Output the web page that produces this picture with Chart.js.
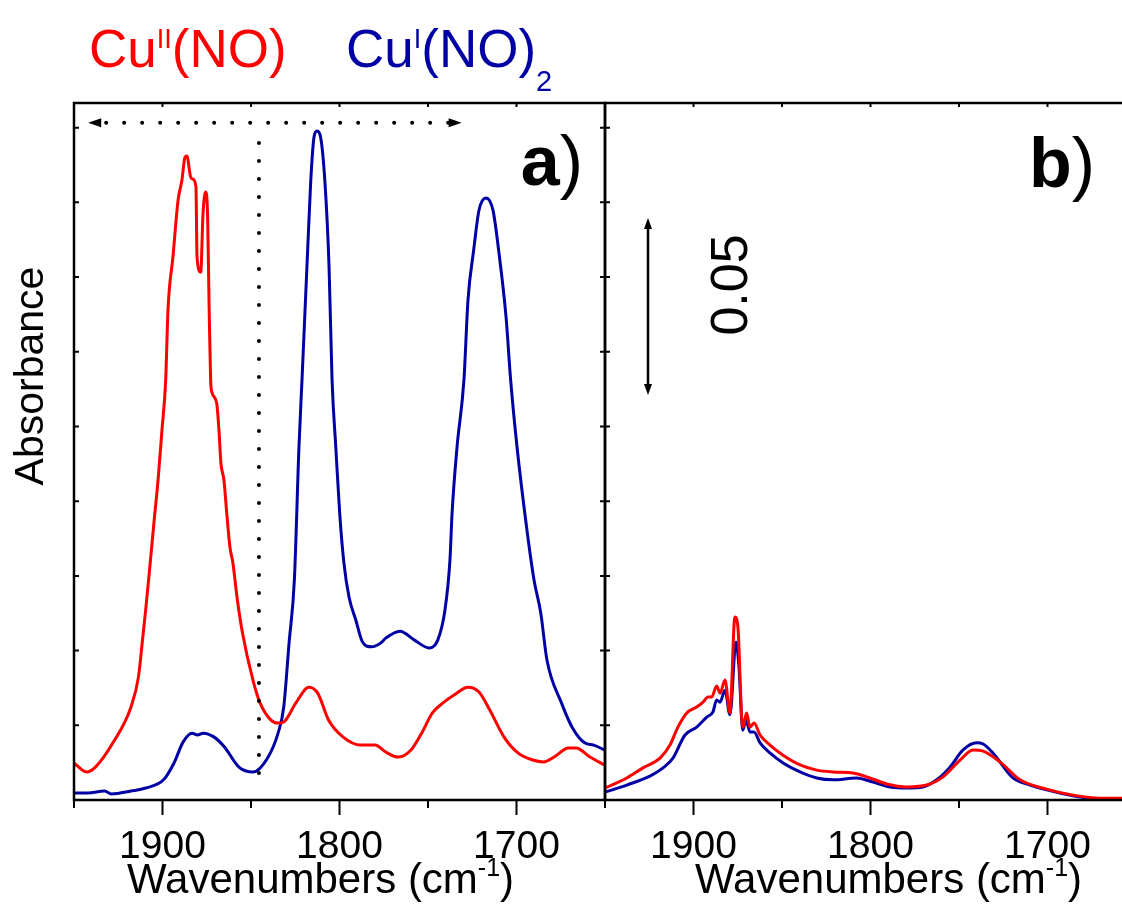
<!DOCTYPE html>
<html>
<head>
<meta charset="utf-8">
<script src="https://cdn.jsdelivr.net/npm/chart.js@4.4.0/dist/chart.umd.min.js"></script>
<style>
html, body { margin: 0; padding: 0; background: #fff; overflow: hidden; }
#wrap { position: relative; width: 1122px; height: 907px; overflow: hidden; }
canvas { position: absolute; left: 0; top: 0; }
</style>
</head>
<body>
<div id="wrap">
<canvas id="chart-a" width="1122" height="907"></canvas>
<canvas id="chart-b" width="1180" height="907"></canvas>
</div>
<script>
// panel a) - wavenumbers (cm-1) and absorbance
const aWaveRed = [1950.0, 1942.9, 1937.9, 1928.0, 1917.8, 1913.6, 1911.3, 1909.5, 1907.6, 1905.9, 1904.8, 1902.5, 1900.3, 1898.2, 1896.9, 1894.1, 1891.2, 1889.0, 1887.3, 1886.2, 1884.1, 1882.8, 1881.1, 1880.5, 1878.4, 1877.1, 1875.6, 1874.5, 1873.7, 1872.8, 1872.0, 1869.4, 1868.1, 1867.0, 1865.3, 1863.7, 1861.9, 1860.2, 1857.9, 1854.8, 1848.9, 1844.9, 1838.7, 1834.7, 1831.5, 1824.6, 1817.3, 1812.3, 1806.2, 1798.1, 1788.0, 1779.9, 1773.8, 1766.9, 1759.6, 1753.6, 1747.5, 1741.5, 1735.3, 1727.4, 1721.2, 1715.1, 1707.1, 1699.2, 1690.8, 1684.7, 1678.8, 1670.6, 1666.4, 1658.5, 1650.3];
const aAbsRed = [0.0099, 0.0075, 0.0088, 0.0153, 0.0249, 0.0329, 0.0428, 0.0509, 0.0602, 0.0688, 0.0744, 0.0857, 0.0990, 0.1124, 0.1312, 0.1454, 0.1606, 0.1660, 0.1721, 0.1724, 0.1668, 0.1662, 0.1641, 0.1454, 0.1413, 0.1571, 0.1628, 0.1561, 0.1330, 0.1124, 0.1090, 0.1063, 0.0990, 0.0902, 0.0857, 0.0768, 0.0677, 0.0634, 0.0543, 0.0447, 0.0321, 0.0260, 0.0214, 0.0206, 0.0209, 0.0260, 0.0302, 0.0286, 0.0214, 0.0169, 0.0147, 0.0147, 0.0128, 0.0115, 0.0134, 0.0179, 0.0233, 0.0260, 0.0281, 0.0302, 0.0289, 0.0241, 0.0169, 0.0126, 0.0107, 0.0102, 0.0115, 0.0139, 0.0139, 0.0115, 0.0094];
const aWaveBlue = [1950.0, 1942.1, 1932.8, 1928.8, 1917.8, 1909.5, 1899.4, 1893.5, 1888.4, 1883.3, 1880.2, 1877.1, 1871.0, 1865.0, 1856.8, 1848.9, 1840.7, 1834.7, 1831.5, 1828.5, 1825.5, 1822.9, 1821.2, 1818.4, 1816.3, 1814.4, 1812.7, 1810.7, 1808.2, 1805.9, 1804.2, 1802.1, 1799.9, 1797.5, 1794.6, 1790.8, 1787.0, 1781.9, 1776.8, 1773.7, 1765.8, 1757.6, 1749.4, 1744.5, 1740.4, 1737.6, 1736.4, 1733.6, 1729.7, 1727.4, 1724.2, 1721.2, 1717.2, 1713.3, 1710.1, 1705.9, 1703.3, 1699.7, 1694.1, 1690.1, 1686.3, 1682.8, 1674.6, 1668.6, 1661.5, 1656.4, 1650.3];
const aAbsBlue = [0.0019, 0.0019, 0.0024, 0.0016, 0.0024, 0.0032, 0.0054, 0.0099, 0.0155, 0.0179, 0.0174, 0.0179, 0.0169, 0.0142, 0.0088, 0.0075, 0.0112, 0.0179, 0.0249, 0.0420, 0.0589, 0.0945, 0.1124, 0.1427, 0.1652, 0.1775, 0.1791, 0.1775, 0.1652, 0.1427, 0.1124, 0.0945, 0.0768, 0.0634, 0.0543, 0.0482, 0.0423, 0.0410, 0.0420, 0.0434, 0.0452, 0.0428, 0.0407, 0.0428, 0.0509, 0.0642, 0.0768, 0.0945, 0.1124, 0.1339, 0.1472, 0.1579, 0.1612, 0.1579, 0.1472, 0.1293, 0.1124, 0.0945, 0.0723, 0.0589, 0.0501, 0.0375, 0.0260, 0.0195, 0.0153, 0.0147, 0.0134];

// panel b)
const bWaveRed = [1950.0, 1937.7, 1928.5, 1918.9, 1913.3, 1908.8, 1903.8, 1898.2, 1894.6, 1891.8, 1889.7, 1886.9, 1885.0, 1882.2, 1879.4, 1876.6, 1874.9, 1872.8, 1872.0, 1870.0, 1868.1, 1865.8, 1862.4, 1856.8, 1849.4, 1839.8, 1830.4, 1821.2, 1809.9, 1802.1, 1790.8, 1779.5, 1768.2, 1759.0, 1749.4, 1742.1, 1736.4, 1726.8, 1715.5, 1700.5, 1685.6, 1670.3, 1657.9];
const bAbsRed = [0.0032, 0.0059, 0.0086, 0.0112, 0.0147, 0.0195, 0.0233, 0.0249, 0.0262, 0.0276, 0.0276, 0.0305, 0.0286, 0.0321, 0.0233, 0.0490, 0.0463, 0.0222, 0.0195, 0.0233, 0.0195, 0.0206, 0.0174, 0.0147, 0.0120, 0.0094, 0.0080, 0.0075, 0.0072, 0.0062, 0.0043, 0.0035, 0.0040, 0.0062, 0.0107, 0.0134, 0.0131, 0.0102, 0.0054, 0.0029, 0.0013, 0.0005, 0.0005];
const bWaveBlue = [1950.0, 1937.7, 1924.6, 1917.2, 1911.6, 1904.8, 1898.2, 1892.5, 1889.0, 1886.9, 1885.0, 1882.2, 1879.4, 1876.0, 1874.3, 1872.2, 1870.3, 1868.1, 1865.8, 1862.4, 1856.8, 1849.4, 1839.8, 1830.4, 1821.2, 1807.8, 1798.6, 1789.0, 1779.5, 1770.3, 1762.6, 1755.1, 1747.7, 1740.0, 1736.4, 1730.8, 1719.5, 1709.9, 1700.5, 1685.6, 1674.3, 1657.9];
const bAbsBlue = [0.0021, 0.0040, 0.0064, 0.0086, 0.0112, 0.0174, 0.0195, 0.0222, 0.0236, 0.0268, 0.0262, 0.0294, 0.0228, 0.0423, 0.0356, 0.0187, 0.0214, 0.0182, 0.0182, 0.0153, 0.0126, 0.0099, 0.0075, 0.0059, 0.0054, 0.0059, 0.0048, 0.0035, 0.0032, 0.0035, 0.0054, 0.0088, 0.0134, 0.0153, 0.0150, 0.0126, 0.0059, 0.0040, 0.0027, 0.0011, 0.0003, 0.0000];

// annotations (data units)
const markerWave = 1845.5;          // dotted vertical line
const markerAbs = [0.0029, 0.1759];
const spanWave = [1942, 1731];       // dotted double arrow
const spanAbs = 0.1813;
const scaleBarWave = 1925.7;         // 0.05 absorbance bar in b)
const scaleBarAbs = [0.1084, 0.1558];

const Y_MAX = 0.1866;
const RED = '#ff0000';
const BLUE = '#0000a5';
const FONT = "'Liberation Sans', Arial, sans-serif";

Chart.defaults.font.family = FONT;
Chart.defaults.color = '#000';

function series(xs, ys) {
    return xs.map((x, i) => ({ x: x, y: ys[i] }));
}

function drawRuns(ctx, runs, x, y) {
    runs.forEach(r => {
        ctx.font = (r.bold ? 'bold ' : '') + r.size + 'px ' + FONT;
        ctx.fillStyle = r.color || '#000';
        ctx.fillText(r.text, x, y + (r.dy || 0));
        x += ctx.measureText(r.text).width;
    });
    return x;
}

function runsWidth(ctx, runs) {
    let w = 0;
    runs.forEach(r => {
        ctx.font = (r.bold ? 'bold ' : '') + r.size + 'px ' + FONT;
        w += ctx.measureText(r.text).width;
    });
    return w;
}

function arrowHead(ctx, x, y, dx, dy, len, half) {
    // tip at (x,y), pointing along (dx,dy)
    const px = -dy, py = dx;
    ctx.beginPath();
    ctx.moveTo(x, y);
    ctx.lineTo(x - dx * len + px * half, y - dy * len + py * half);
    ctx.lineTo(x - dx * len - px * half, y - dy * len - py * half);
    ctx.closePath();
    ctx.fill();
}

function drawFrame(chart, sides) {
    const { ctx, chartArea: ca, scales: { x, y } } = chart;
    ctx.save();
    ctx.strokeStyle = '#000';
    ctx.lineWidth = 2.5;
    ctx.lineCap = 'square';
    ctx.beginPath();
    ctx.moveTo(ca.left, ca.top); ctx.lineTo(ca.left, ca.bottom);
    ctx.moveTo(ca.left, ca.bottom); ctx.lineTo(ca.right, ca.bottom);
    ctx.moveTo(ca.left, ca.top); ctx.lineTo(ca.right, ca.top);
    if (sides.right) { ctx.moveTo(ca.right, ca.top); ctx.lineTo(ca.right, ca.bottom); }
    ctx.stroke();

    ctx.lineWidth = 2;
    ctx.lineCap = 'butt';
    ctx.beginPath();
    for (let i = 1; i * 0.02 < Y_MAX; i++) {
        const py = y.getPixelForValue(i * 0.02);
        ctx.moveTo(ca.left, py); ctx.lineTo(ca.left + 5, py);
        if (sides.right) { ctx.moveTo(ca.right, py); ctx.lineTo(ca.right - 5, py); }
    }
    x.ticks.forEach(t => {
        const v = Math.round(t.value);
        if (v % 50 !== 0) return;
        const px = x.getPixelForValue(v);
        const major = v % 100 === 0;
        ctx.moveTo(px, ca.bottom); ctx.lineTo(px, ca.bottom + (major ? 15 : 8));
        ctx.moveTo(px, ca.top); ctx.lineTo(px, ca.top + 4);
    });
    ctx.stroke();
    ctx.restore();
}

function drawXTitle(ctx, left, baseline) {
    ctx.save();
    ctx.textAlign = 'left';
    ctx.textBaseline = 'alphabetic';
    drawRuns(ctx, [
        { text: 'Wavenumbers (cm', size: 42 },
        { text: '-1', size: 25, dy: -17 },
        { text: ')', size: 42 }
    ], left, baseline);
    ctx.restore();
}

function drawPanelLetter(ctx, letter, right, baseline) {
    const runs = [{ text: letter, size: 70, bold: true }, { text: ')', size: 70 }];
    ctx.save();
    ctx.textAlign = 'left';
    ctx.textBaseline = 'alphabetic';
    drawRuns(ctx, runs, right - runsWidth(ctx, runs), baseline);
    ctx.restore();
}

const panelAPlugin = {
    id: 'panelA',
    afterDraw(chart) {
        const { ctx, chartArea: ca, scales: { x, y } } = chart;
        drawFrame(chart, { right: true });

        ctx.save();
        // dotted markers
        ctx.strokeStyle = '#000';
        ctx.fillStyle = '#000';
        ctx.lineWidth = 4;
        ctx.lineCap = 'round';
        ctx.setLineDash([0, 18]);
        const vx = x.getPixelForValue(markerWave);
        ctx.beginPath();
        ctx.moveTo(vx, y.getPixelForValue(markerAbs[1]));
        ctx.lineTo(vx, y.getPixelForValue(markerAbs[0]));
        ctx.stroke();
        const hy = y.getPixelForValue(spanAbs);
        const hx0 = x.getPixelForValue(spanWave[0]);
        const hx1 = x.getPixelForValue(spanWave[1]);
        ctx.beginPath();
        ctx.moveTo(hx0 + 18, hy);
        ctx.lineTo(hx1 - 10, hy);
        ctx.stroke();
        ctx.setLineDash([]);
        arrowHead(ctx, hx0, hy, -1, 0, 13, 4.5);
        arrowHead(ctx, hx1, hy, 1, 0, 13, 4.5);

        // y axis title
        ctx.save();
        ctx.translate(43, 376);
        ctx.rotate(-Math.PI / 2);
        ctx.textAlign = 'center';
        ctx.textBaseline = 'alphabetic';
        ctx.font = '41px ' + FONT;
        ctx.fillText('Absorbance', 0, 0);
        ctx.restore();

        // species labels above the frame
        ctx.textAlign = 'left';
        ctx.textBaseline = 'alphabetic';
        drawRuns(ctx, [
            { text: 'Cu', size: 53, color: RED },
            { text: 'II', size: 27, dy: -19, color: RED },
            { text: '(NO)', size: 53, color: RED }
        ], 89, 67);
        drawRuns(ctx, [
            { text: 'Cu', size: 53, color: BLUE },
            { text: 'I', size: 27, dy: -19, color: BLUE },
            { text: '(NO)', size: 53, color: BLUE },
            { text: '2', size: 29, dy: 24, color: BLUE }
        ], 346, 67);
        ctx.restore();

        drawPanelLetter(ctx, 'a', ca.right - 22, 185);
        drawXTitle(ctx, ca.left + 53, 893);
    }
};

const panelBPlugin = {
    id: 'panelB',
    afterDraw(chart) {
        const { ctx, chartArea: ca, scales: { x, y } } = chart;
        drawFrame(chart, { right: false });

        ctx.save();
        ctx.strokeStyle = '#000';
        ctx.fillStyle = '#000';
        ctx.lineWidth = 2.5;
        const sx = x.getPixelForValue(scaleBarWave);
        const sy0 = y.getPixelForValue(scaleBarAbs[0]);
        const sy1 = y.getPixelForValue(scaleBarAbs[1]);
        ctx.beginPath();
        ctx.moveTo(sx, sy1 + 8);
        ctx.lineTo(sx, sy0 - 8);
        ctx.stroke();
        arrowHead(ctx, sx, sy1, 0, -1, 11, 4);
        arrowHead(ctx, sx, sy0, 0, 1, 11, 4);

        ctx.translate(747, 285);
        ctx.rotate(-Math.PI / 2);
        ctx.textAlign = 'center';
        ctx.textBaseline = 'alphabetic';
        ctx.font = '52px ' + FONT;
        ctx.fillText('0.05', 0, 0);
        ctx.restore();

        drawPanelLetter(ctx, 'b', 1095, 187);
        drawXTitle(ctx, ca.left + 90, 893);
    }
};

function makePanel(id, cfg) {
    return new Chart(document.getElementById(id), {
        type: 'line',
        data: {
            datasets: [
                { data: series(cfg.redX, cfg.redY), borderColor: RED, borderWidth: 3, pointRadius: 0, cubicInterpolationMode: 'monotone', fill: false },
                { data: series(cfg.blueX, cfg.blueY), borderColor: BLUE, borderWidth: 3, pointRadius: 0, cubicInterpolationMode: 'monotone', fill: false }
            ]
        },
        options: {
            responsive: false,
            animation: false,
            events: [],
            layout: { padding: cfg.padding },
            plugins: { legend: { display: false }, tooltip: { enabled: false } },
            scales: {
                x: {
                    type: 'linear', reverse: true, min: 1650, max: 1950,
                    grid: { display: false, drawTicks: false },
                    border: { display: false },
                    ticks: {
                        stepSize: 50, autoSkip: false, maxRotation: 0, padding: 24,
                        color: '#000', font: { size: 39 },
                        callback: v => (Math.round(v) % 100 === 0 ? String(Math.round(v)) : '')
                    },
                    afterFit: s => { s.height = 107; }
                },
                y: { display: false, min: 0, max: Y_MAX }
            }
        },
        plugins: [cfg.plugin]
    });
}

makePanel('chart-a', {
    redX: aWaveRed, redY: aAbsRed, blueX: aWaveBlue, blueY: aAbsBlue,
    padding: { left: 74, top: 103, right: 517, bottom: 0 }, plugin: panelAPlugin
});
// panel b runs past the right edge of the picture, so its canvas is wider and clipped
makePanel('chart-b', {
    redX: bWaveRed, redY: bAbsRed, blueX: bWaveBlue, blueY: bAbsBlue,
    padding: { left: 605, top: 103, right: 44, bottom: 0 }, plugin: panelBPlugin
});
</script>
</body>
</html>
